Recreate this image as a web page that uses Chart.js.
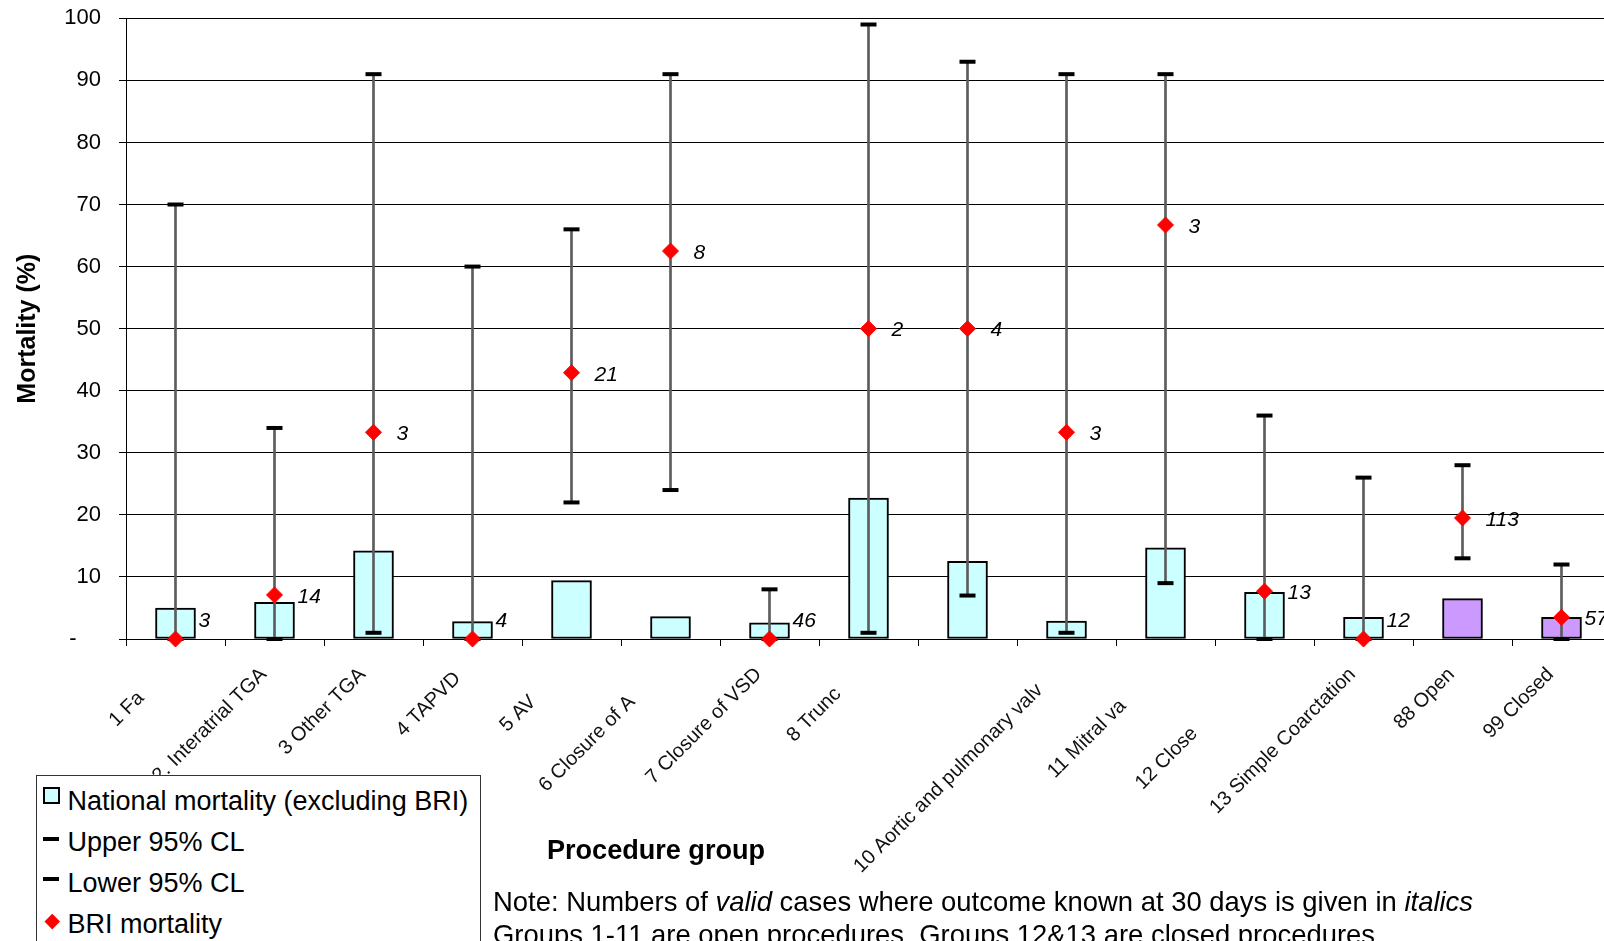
<!DOCTYPE html>
<html>
<head>
<meta charset="utf-8">
<script src="https://cdn.jsdelivr.net/npm/chart.js@4/dist/chart.umd.min.js"></script>
<style>
html,body{margin:0;padding:0;background:#fff;overflow:hidden;width:1604px;height:941px;}
#wrap{position:relative;width:1604px;height:941px;overflow:hidden;}
#c{position:absolute;left:0;top:0;}
.txt{position:absolute;white-space:nowrap;line-height:1;font-family:"Liberation Sans",Arial,sans-serif;color:#000;transform-origin:0 0;}
#legend{position:absolute;left:36px;top:775px;width:443px;height:200px;border:1px solid #333;background:#fff;}
#legend .mk{position:absolute;box-sizing:border-box;}
#legend .lt{position:absolute;white-space:nowrap;line-height:1;font-family:"Liberation Sans",Arial,sans-serif;font-size:27px;color:#000;}
</style>
</head>
<body>
<div id="wrap">
  <canvas id="c" width="1623" height="941"></canvas>
  <div id="legend"></div>
  <div id="xtitle" class="txt" style="left:547px;top:836px;font-size:28px;font-weight:bold;">Procedure group</div>
  <div id="note1" class="txt" style="left:493px;top:888px;font-size:28px;">Note: Numbers of <i>valid</i> cases where outcome known at 30 days is given in <i>italics</i></div>
  <div id="note2" class="txt" style="left:493px;top:921px;font-size:28px;">Groups 1-11 are open procedures. Groups 12&amp;13 are closed procedures</div>
</div>
<script>
// ---------------- DATA ----------------
const categories = ["1 Fa", "2. Interatrial TGA", "3 Other TGA", "4 TAPVD", "5 AV", "6 Closure of A",
  "7 Closure of VSD", "8 Trunc", "", "10 Aortic and pulmonary valv", "11 Mitral va", "12 Close",
  "13 Simple Coarctation", "88 Open", "99 Closed"];
const nationalMortality = [5.0, 5.9, 14.2, 2.8, 9.4, 3.6, 2.6, 22.7, 12.5, 2.9, 14.7, 7.5, 3.5, 6.5, 3.5];
const upperCL = [70, 34, 91, 60, 66, 91, 8, 99, 93, 91, 91, 36, 26, 28, 12];
const lowerCL = [0, 0, 1, 0, 22, 24, 0, 1, 7, 1, 9, 0, 0, 13, 0];
const briMortality = [0, 7.1, 33.3, 0, 42.9, 62.5, 0, 50, 50, 33.3, 66.7, 7.7, 0, 19.5, 3.5];
const validCases = [3, 14, 3, 4, 21, 8, 46, 2, 4, 3, 3, 13, 12, 113, 57];
const yTickLabels = ["-", "10", "20", "30", "40", "50", "60", "70", "80", "90", "100"];
const seriesNames = ["National mortality (excluding BRI)", "Upper 95% CL", "Lower 95% CL", "BRI mortality"];

// ---------------- STYLE ----------------
const FONT = '"Liberation Sans", Arial, sans-serif';
const barFill = categories.map((c, i) => i >= 13 ? '#CC99FF' : '#CCFFFF');
// trailing space counts reproduce the clipped look of the truncated axis labels
const labelClip = [6, 0, 0, 1, 7, 7, 0, 5, 0, 4, 8, 15, 0, 0, 0];

const countLabels = {
  id: 'countLabels',
  afterDatasetsDraw(chart) {
    const { ctx, scales: { x, y }, chartArea } = chart;
    ctx.save();
    ctx.font = 'italic 21px ' + FONT;
    ctx.fillStyle = '#000';
    ctx.textBaseline = 'middle';
    ctx.textAlign = 'left';
    validCases.forEach((n, i) => {
      const px = x.getPixelForValue(i);
      let py = y.getPixelForValue(briMortality[i]) + 2;
      py = Math.min(py, chartArea.bottom - 18);
      ctx.fillText(String(n), px + 23, py);
    });
    ctx.restore();
  }
};

const chart = new Chart(document.getElementById('c'), {
  type: 'bar',
  data: {
    labels: categories,
    datasets: [
      { type: 'line', label: seriesNames[3], data: briMortality, showLine: false,
        pointStyle: 'rectRot', pointRadius: 8, pointHoverRadius: 8,
        pointBackgroundColor: '#FF0000', pointBorderColor: '#FF0000', pointBorderWidth: 1,
        order: 1, clip: false },
      { type: 'line', label: seriesNames[1], data: upperCL, showLine: false,
        pointStyle: 'line', pointRadius: 8, pointHoverRadius: 8,
        pointBorderColor: '#000', pointBackgroundColor: '#000', pointBorderWidth: 4,
        order: 2, clip: false },
      { type: 'line', label: seriesNames[2], data: lowerCL, showLine: false,
        pointStyle: 'line', pointRadius: 8, pointHoverRadius: 8,
        pointBorderColor: '#000', pointBackgroundColor: '#000', pointBorderWidth: 4,
        order: 3, clip: false },
      { type: 'bar', label: 'CL range', data: lowerCL.map((l, i) => [l, upperCL[i]]),
        backgroundColor: '#5c5c5c', borderWidth: 0, barThickness: 2, grouped: false, order: 4 },
      { type: 'bar', label: seriesNames[0], data: nationalMortality,
        backgroundColor: barFill, borderColor: '#000', borderWidth: 2, borderSkipped: false,
        barThickness: 40, grouped: false, order: 5 }
    ]
  },
  options: {
    responsive: false,
    animation: false,
    devicePixelRatio: 1,
    layout: { padding: { top: 18.3, left: 0, right: 0, bottom: 0 } },
    plugins: { legend: { display: false }, tooltip: { enabled: false } },
    scales: {
      x: {
        offset: true,
        grid: { display: true, drawOnChartArea: false, drawTicks: true, tickLength: 7, offset: true, color: '#000', lineWidth: 1 },
        border: { display: true, color: '#000', width: 1 },
        ticks: {
          autoSkip: false, minRotation: 45, maxRotation: 45, padding: 17, labelOffset: -11,
          font: { family: FONT, size: 20 }, color: '#111',
          callback: (v, i) => categories[i] + ' '.repeat(labelClip[i])
        },
        afterFit: s => { s.height = 302; }
      },
      y: {
        min: 0, max: 100,
        ticks: {
          stepSize: 10, padding: 18, font: { family: FONT, size: 22 }, color: '#000',
          callback: v => { const t = yTickLabels[Math.round(v / 10)]; return t === '-' ? '-    ' : t; }
        },
        grid: { color: '#000', lineWidth: 1, tickLength: 7, drawTicks: true },
        border: { display: true, color: '#000', width: 1 },
        title: { display: true, text: 'Mortality (%)', color: '#000',
                 font: { family: FONT, size: 25, weight: 'bold' }, padding: { top: 13, bottom: 0 } },
        afterFit: s => { s.width = 126; s.paddingTop = 0; s.paddingBottom = 0; }
      }
    }
  },
  plugins: [countLabels]
});

// ---------------- LEGEND (from chart datasets) ----------------
(function buildLegend() {
  const box = document.getElementById('legend');
  const ox = 37, oy = 776;
  const baselines = [810, 851.5, 892, 933];
  seriesNames.forEach((name, k) => {
    const ds = chart.data.datasets.find(d => d.label === name);
    const mk = document.createElement('div');
    mk.className = 'mk';
    if (ds.type === 'bar') {
      Object.assign(mk.style, { left: (43 - ox) + 'px', top: (787 - oy) + 'px', width: '17px', height: '17px',
        background: ds.backgroundColor[0], border: '2px solid #000' });
    } else if (ds.pointStyle === 'line') {
      Object.assign(mk.style, { left: (43 - ox) + 'px', top: (baselines[k] - 15 - oy) + 'px', width: '16px', height: '4px',
        background: ds.pointBorderColor });
    } else {
      Object.assign(mk.style, { left: (46.5 - ox) + 'px', top: (915.5 - oy) + 'px', width: '10.5px', height: '10.5px',
        background: ds.pointBackgroundColor, transform: 'rotate(45deg)' });
    }
    box.appendChild(mk);
    const t = document.createElement('div');
    t.className = 'lt';
    t.textContent = name;
    t.style.left = (67.5 - ox) + 'px';
    t.style.top = (baselines[k] - 22.4 - oy) + 'px';
    box.appendChild(t);
  });
})();

// ---------------- fit free text widths ----------------
function fitWidth(el, target) {
  const w = el.getBoundingClientRect().width;
  const s = target / w;
  el.style.transform = 'scaleX(' + s + ')';
  return s;
}
fitWidth(document.getElementById('xtitle'), 218);
const ns = fitWidth(document.getElementById('note1'), 980);
document.getElementById('note2').style.transform = 'scaleX(' + ns + ')';
</script>
</body>
</html>
